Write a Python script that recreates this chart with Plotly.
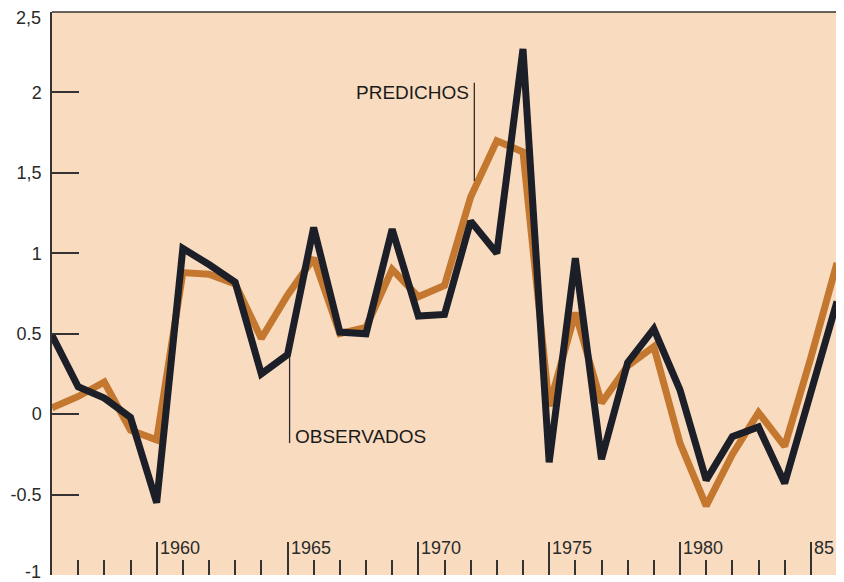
import plotly.graph_objects as go

years = list(range(1956, 1987))
observados = [0.49, 0.17, 0.10, -0.02, -0.55, 1.03, 0.93, 0.82, 0.25, 0.37,
              1.16, 0.51, 0.50, 1.15, 0.61, 0.62, 1.20, 1.00, 2.27, -0.30,
              0.97, -0.28, 0.32, 0.53, 0.15, -0.41, -0.14, -0.08, -0.43, 0.12, 0.70]
predichos = [0.04, 0.11, 0.20, -0.10, -0.16, 0.88, 0.87, 0.81, 0.47, 0.74,
             0.97, 0.50, 0.54, 0.90, 0.73, 0.80, 1.35, 1.70, 1.63, 0.05,
             0.63, 0.07, 0.30, 0.42, -0.18, -0.57, -0.25, 0.01, -0.20, 0.35, 0.94]

ytick_vals = [-1, -0.5, 0, 0.5, 1, 1.5, 2, 2.5]
ytick_text = ["-1", "-0.5", "0", "0.5", "1", "1,5", "2", "2,5"]
xlabel_years = [1960, 1965, 1970, 1975, 1980, 1985]
xlabel_text = ["1960", "1965", "1970", "1975", "1980", "85"]

ORANGE = "#c3772f"
DARK = "#1c1f27"
INK = "#2a2a2a"
FONT = "Liberation Sans, Arial, sans-serif"

fig = go.Figure()
fig.add_trace(go.Scatter(x=years, y=predichos, mode="lines", name="PREDICHOS",
                         line=dict(color=ORANGE, width=7), cliponaxis=True))
fig.add_trace(go.Scatter(x=years, y=observados, mode="lines", name="OBSERVADOS",
                         line=dict(color=DARK, width=7), cliponaxis=True))

# y tick labels: interior ones as axis labels, the two end ones as annotations
inner_text = [t if v not in (ytick_vals[0], ytick_vals[-1]) else "" for v, t in zip(ytick_vals, ytick_text)]
fig.add_annotation(x=0, y=ytick_vals[-1], xref="paper", yref="y", text=ytick_text[-1],
                   showarrow=False, xanchor="right", yanchor="middle", xshift=-9, yshift=-6,
                   font=dict(family=FONT, size=18, color=INK))
fig.add_annotation(x=0, y=ytick_vals[0], xref="paper", yref="y", text=ytick_text[0],
                   showarrow=False, xanchor="right", yanchor="middle", xshift=-9, yshift=3,
                   font=dict(family=FONT, size=18, color=INK))

# x tick labels placed to the right of the major ticks
for yr, txt in zip(xlabel_years, xlabel_text):
    fig.add_annotation(x=yr, y=-0.83, xref="x", yref="y", text=txt, showarrow=False,
                       xanchor="left", yanchor="middle", xshift=1,
                       font=dict(family=FONT, size=18, color=INK))

# series labels with leader lines
fig.add_annotation(x=1972.02, y=2.0, xref="x", yref="y", text="PREDICHOS", showarrow=False,
                   xanchor="right", yanchor="middle",
                   font=dict(family=FONT, size=19, color="#1a1a1a"))
fig.add_shape(type="line", xref="x", yref="y", x0=1972.14, x1=1972.14, y0=2.06, y1=1.45,
              line=dict(color="#3a2a20", width=1.3))
fig.add_annotation(x=1965.2, y=-0.14, xref="x", yref="y", text="OBSERVADOS", showarrow=False,
                   xanchor="left", yanchor="middle",
                   font=dict(family=FONT, size=19, color="#1a1a1a"))
fig.add_shape(type="line", xref="x", yref="y", x0=1965.08, x1=1965.08, y0=0.36, y1=-0.18,
              line=dict(color="#2a2a2a", width=1.3))

# top and right frame
fig.add_shape(type="line", xref="paper", yref="paper", x0=0, x1=1, y0=1, y1=1,
              line=dict(color="#333", width=1.5))
fig.add_shape(type="line", xref="paper", yref="paper", x0=1, x1=1, y0=0, y1=1,
              line=dict(color="#555", width=1.5))

# page body has an 8px margin, so the figure is sized to fit the window
fig.update_layout(
    width=836, height=574,
    margin=dict(l=44, r=7, t=4, b=7),
    paper_bgcolor="white",
    plot_bgcolor="#f9dcc0",
    showlegend=False,
    font=dict(family=FONT, color=INK),
    xaxis=dict(range=[1956, 1986], showgrid=False, zeroline=False, showline=False,
               automargin=False,
               ticks="inside", tickmode="linear", tick0=1960, dtick=5, ticklen=33,
               tickwidth=1.5, tickcolor="#333", showticklabels=False,
               minor=dict(ticks="inside", tickmode="linear", tick0=1956, dtick=1,
                          ticklen=15, tickwidth=1.5, tickcolor="#333")),
    yaxis=dict(range=[-1, 2.5], showgrid=False, zeroline=False, showline=True,
               automargin=False,
               linecolor="#333", linewidth=1.5,
               ticks="inside", ticklen=27, tickwidth=1.5, tickcolor="#333",
               tickmode="array", tickvals=ytick_vals, ticktext=inner_text,
               tickfont=dict(family=FONT, size=18, color=INK), ticklabelstandoff=5),
)

fig.write_html("out.html")
